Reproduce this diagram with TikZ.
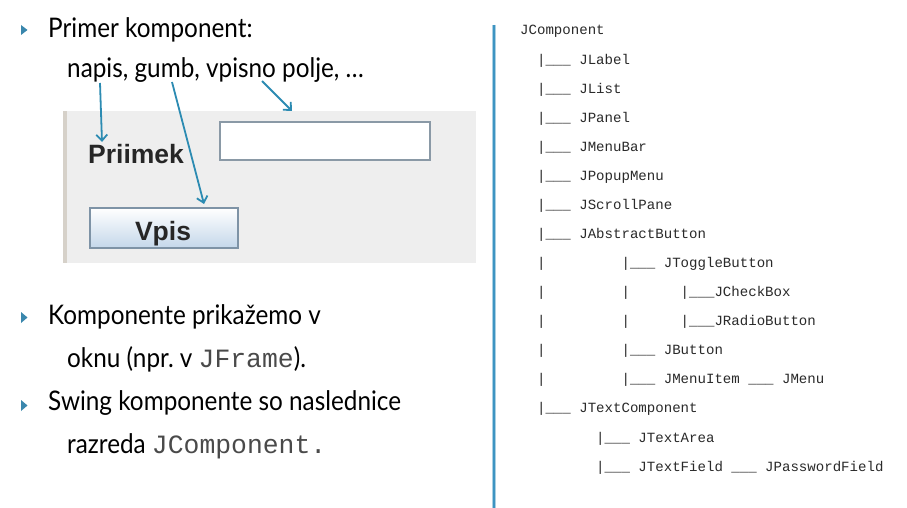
\documentclass[tikz,border=0pt]{standalone}
\usepackage{fontspec}
\setmainfont{Lato}[FakeStretch=0.9]
\setmonofont{Liberation Mono}
\newfontfamily\guifont{Liberation Sans}
\usetikzlibrary{arrows.meta,shadings}
\definecolor{arrcol}{HTML}{2C8BB2}
\definecolor{bulcol}{HTML}{3A87AD}
\definecolor{treecol}{HTML}{2A2A2A}
\definecolor{monogray}{HTML}{4A4A4A}
\definecolor{panelgray}{HTML}{EEEEEE}
\definecolor{edgecol}{HTML}{D6D1C9}
\definecolor{fieldborder}{HTML}{8A99A6}
\definecolor{btnborder}{HTML}{7E93A6}
\definecolor{btnbottom}{HTML}{C4D7EA}
\definecolor{vline}{HTML}{3D94C2}
\definecolor{vlinelight}{HTML}{A9D0E3}
\newcommand\mcol[1]{\hspace*{#1\dimexpr0.6em\relax}}
\newcommand\leftmono[1]{{\ttfamily\fontsize{26.4}{30}\selectfont\color{monogray}#1}}
\begin{document}
\begin{tikzpicture}[x=1pt,y=-1pt,
  txt/.style={anchor=base west, inner sep=0pt, font=\fontsize{27}{30}\selectfont},
  tree/.style={anchor=base west, inner sep=0pt, font=\fontsize{14.08}{16}\selectfont\ttfamily, text=treecol},
  gui/.style={inner sep=0pt, font=\fontsize{26.5}{30}\selectfont\guifont\bfseries, text=black!85},
  bul/.style={fill=bulcol},
  ptr/.style={draw=arrcol, line width=1.8pt, -{Straight Barb[length=6pt,width=11pt]}}]
\useasboundingbox (0,0) rectangle (907,508);
\fill[white] (0,0) rectangle (907,508);

% left bullets and text
\fill[bul] (21,25) -- (27.5,30) -- (21,35) -- cycle;
\node[txt] (t1) at (48,38) {Primer komponent:};
\node[txt] (t2) at (67,78) {napis, gumb, vpisno polje, \ldots};

\fill[bul] (21,312) -- (27.5,317.5) -- (21,323) -- cycle;
\node[txt] (t3) at (48,324) {Komponente prikažemo v};
\node[txt] (t4) at (67,367) {oknu (npr.\ v \leftmono{JFrame}).};
\fill[bul] (21,400) -- (27.5,405.5) -- (21,411) -- cycle;
\node[txt] (t5) at (48,410) {Swing komponente so naslednice};
\node[txt] (t6) at (67,453) {razreda \leftmono{JComponent.}};

% screenshot panel
\fill[panelgray] (63,111) rectangle (476,263);
\fill[edgecol] (63,111) rectangle (66.5,263);
\node[gui, anchor=base west] (priimek) at (88,163) {Priimek};
\node[draw=fieldborder, line width=2pt, fill=white, anchor=north west, minimum width=210pt, minimum height=38pt, inner sep=0pt, outer sep=0pt] (field) at (220,122) {};
\node[draw=btnborder, line width=2pt, top color=white, bottom color=btnbottom, anchor=north west, minimum width=148pt, minimum height=40pt, inner sep=0pt, outer sep=0pt] (btn) at (90,208) {};
\node[gui, anchor=base] (vpis) at (163,240) {Vpis};

% pointers
\coordinate (a1s) at (100,83);
\coordinate (a1e) at (102,142);
\coordinate (a2s) at (172,82);
\coordinate (a2e) at (204,204);
\coordinate (a3s) at (262,81);
\coordinate (a3e) at (292,111);
\draw[ptr] (a1s) -- (a1e);
\draw[ptr] (a2s) -- (a2e);
\draw[ptr] (a3s) -- (a3e);

% divider
\draw[vlinelight, line width=4pt] (494,25) coordinate (d1) -- (494,508) coordinate (d2);
\draw[vline, line width=2pt] (d1) -- (d2);

% class tree
\node[tree] (r0)  at (520,35.0)  {JComponent};
\node[tree] (r1)  at (520,64.1)  {\mcol{2}|\_\_\_ JLabel};
\node[tree] (r2)  at (520,93.1)  {\mcol{2}|\_\_\_ JList};
\node[tree] (r3)  at (520,122.2) {\mcol{2}|\_\_\_ JPanel};
\node[tree] (r4)  at (520,151.3) {\mcol{2}|\_\_\_ JMenuBar};
\node[tree] (r5)  at (520,180.4) {\mcol{2}|\_\_\_ JPopupMenu};
\node[tree] (r6)  at (520,209.4) {\mcol{2}|\_\_\_ JScrollPane};
\node[tree] (r7)  at (520,238.5) {\mcol{2}|\_\_\_ JAbstractButton};
\node[tree] (r8)  at (520,267.6) {\mcol{2}|\mcol{9}|\_\_\_ JToggleButton};
\node[tree] (r9)  at (520,296.6) {\mcol{2}|\mcol{9}|\mcol{6}|\_\_\_JCheckBox};
\node[tree] (r10) at (520,325.7) {\mcol{2}|\mcol{9}|\mcol{6}|\_\_\_JRadioButton};
\node[tree] (r11) at (520,354.8) {\mcol{2}|\mcol{9}|\_\_\_ JButton};
\node[tree] (r12) at (520,383.8) {\mcol{2}|\mcol{9}|\_\_\_ JMenuItem \_\_\_ JMenu};
\node[tree] (r13) at (520,412.9) {\mcol{2}|\_\_\_ JTextComponent};
\node[tree] (r14) at (520,442.0) {\mcol{9}|\_\_\_ JTextArea};
\node[tree] (r15) at (520,471.1) {\mcol{9}|\_\_\_ JTextField \_\_\_ JPasswordField};
\end{tikzpicture}
\end{document}
